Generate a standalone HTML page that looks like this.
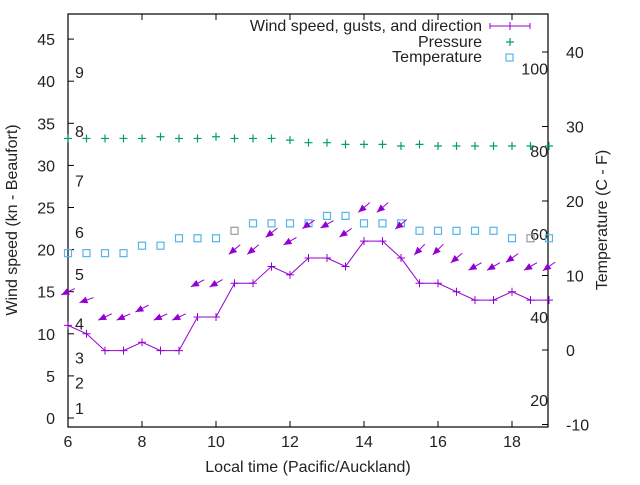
<!DOCTYPE html>
<html><head><meta charset="utf-8"><style>
body{margin:0;background:#fff}
svg text{font-family:"Liberation Sans",sans-serif;font-size:16px;fill:#222}
</style></head><body>
<svg id="c" width="640" height="480" viewBox="0 0 640 480">
<rect x="68" y="14" width="480" height="413" fill="none" stroke="#000" stroke-width="1.2"/>
<g id="axes"></g><g id="marks"></g>
<text x="0" y="0" transform="translate(17,220) rotate(-90)" text-anchor="middle">Wind speed (kn - Beaufort)</text>
<text x="0" y="0" transform="translate(607,220) rotate(-90)" text-anchor="middle">Temperature (C - F)</text>
<text x="308" y="472" text-anchor="middle">Local time (Pacific/Auckland)</text>
<g>
<text x="482" y="31" text-anchor="end">Wind speed, gusts, and direction</text>
<path d="M490 26H530M490 23V29M530 23V29M510 22V30" stroke="#9400d3" fill="none"/>
<text x="482" y="47" text-anchor="end">Pressure</text>
<path d="M506 42H514M510 38V46" stroke="#009e73" stroke-width="1.2"/>
<text x="482" y="62" text-anchor="end">Temperature</text>
<rect x="506" y="54" width="7" height="7" fill="none" stroke="#56b4e9" stroke-width="1.2"/>
</g>
</svg>
<script>
const times=[6,6.5,7,7.5,8,8.5,9,9.5,10,10.5,11,11.5,12,12.5,13,13.5,14,14.5,15,15.5,16,16.5,17,17.5,18,18.5,19];
const wind=[11,10,8,8,9,8,8,12,12,16,16,18,17,19,19,18,21,21,19,16,16,15,14,14,15,14,14];
const gusts=[15,14,12,12,13,12,12,16,16,20,20,22,21,23,23,22,25,25,23,20,20,19,18,18,19,18,18];
const dirs=[25,20,25,25,28,25,25,28,30,40,40,38,30,35,30,35,40,40,40,45,45,40,30,30,35,30,35];
const pressure=[33.2,33.2,33.2,33.2,33.2,33.4,33.2,33.2,33.4,33.2,33.2,33.2,33.0,32.7,32.7,32.5,32.5,32.5,32.3,32.5,32.3,32.3,32.3,32.3,32.3,32.3,32.3];
const temps=[13,13,13,13,14,14,15,15,15,16,17,17,17,17,18,18,17,17,17,16,16,16,16,16,15,15,15];
const xTicks=[6,8,10,12,14,16,18];
const yTicks=[0,5,10,15,20,25,30,35,40,45];
const y2Ticks=[-10,0,10,20,30,40];
const beaufort=[[1,1.2],[2,4.2],[3,7.2],[4,11.2],[5,17.1],[6,22.1],[7,28.2],[8,34.1],[9,41.1]];
const fahr=[[20,-6.7],[40,4.4],[60,15.6],[80,26.7],[100,37.8]];
const X=t=>68+(t-6)*37;
const Y=v=>418-v*8.42;
const Y2=v=>350-v*7.45;
const NS='http://www.w3.org/2000/svg';
const ax=document.getElementById('axes'),mk=document.getElementById('marks');
function mkEl(tag,attrs,parent){const e=document.createElementNS(NS,tag);for(const k in attrs)e.setAttribute(k,attrs[k]);parent.appendChild(e);return e;}
xTicks.forEach(t=>{
 const l=mkEl('path',{d:`M${X(t)} 427v-6M${X(t)} 14v6`,stroke:'#000'},ax);
 
 
 const tx=mkEl('text',{x:X(t),y:447,'text-anchor':'middle'},ax);tx.textContent=t;
 
 
});
yTicks.forEach(v=>{
 const l=mkEl('path',{d:`M68 ${Y(v)}h6`,stroke:'#000'},ax);
 
 
 const tx=mkEl('text',{x:55,y:Y(v)+6,'text-anchor':'end'},ax);tx.textContent=v;
 
 
});
y2Ticks.forEach(v=>{
 const l=mkEl('path',{d:`M548 ${Y2(v)}h-6`,stroke:'#000'},ax);
 
 
 const tx=mkEl('text',{x:566,y:Y2(v)+6,'text-anchor':'start'},ax);tx.textContent=v;
 
 
});
beaufort.forEach(b=>{
 const tx=mkEl('text',{x:75,y:Y(b[1])+6},ax);tx.textContent=b[0];
 
 
});
fahr.forEach(f=>{
 const tx=mkEl('text',{x:548,y:Y2(f[1])+6,'text-anchor':'end'},ax);tx.textContent=f[0];
 
 
});
times.forEach((t,i)=>{
 const x=X(t),y=Y(pressure[i]);
 const p=mkEl('path',{d:`M${x-4} ${y}h8M${x} ${y-4}v8`,stroke:'#009e73','stroke-width':1.2},mk);
 
 
});
times.forEach((t,i)=>{
 const grey=(t===10.5||t===18.5);
 const r=mkEl('rect',{x:X(t)-3.5,y:Y2(temps[i])-3.5,width:7,height:7,fill:'none',stroke:grey?'#999':'#56b4e9','stroke-width':1.2},mk);
 
 
});
let d='';times.forEach((t,i)=>{d+=(i?'L':'M')+X(t)+' '+Y(wind[i]);});
const wl=mkEl('path',{d:d,stroke:'#9400d3',fill:'none'},mk);


times.forEach((t,i)=>{
 const x=X(t),y=Y(wind[i]);
 const p=mkEl('path',{d:`M${x-4} ${y}h8M${x} ${y-4}v8`,stroke:'#9400d3'},mk);
 
 
});
times.forEach((t,i)=>{
 const cx=X(t),cy=Y(gusts[i]);
 const a=dirs[i]*Math.PI/180;
 const ux=-Math.cos(a),uy=Math.sin(a); // head direction: down-left
 const L=7.5;
 const hx=cx+ux*L,hy=cy+uy*L,tx=cx-ux*L,ty=cy-uy*L;
 const g=mkEl('g',{},mk);
 
 
 mkEl('path',{d:`M${tx} ${ty}L${hx} ${hy}`,stroke:'#9400d3'},g);
 const px=-uy,py=ux,s=8,w=3.5;
 const bx=hx-ux*s,by=hy-uy*s;
 mkEl('path',{d:`M${hx} ${hy}L${bx+px*w} ${by+py*w}L${bx-px*w} ${by-py*w}Z`,fill:'#9400d3'},g);
});
</script>
</body></html>
